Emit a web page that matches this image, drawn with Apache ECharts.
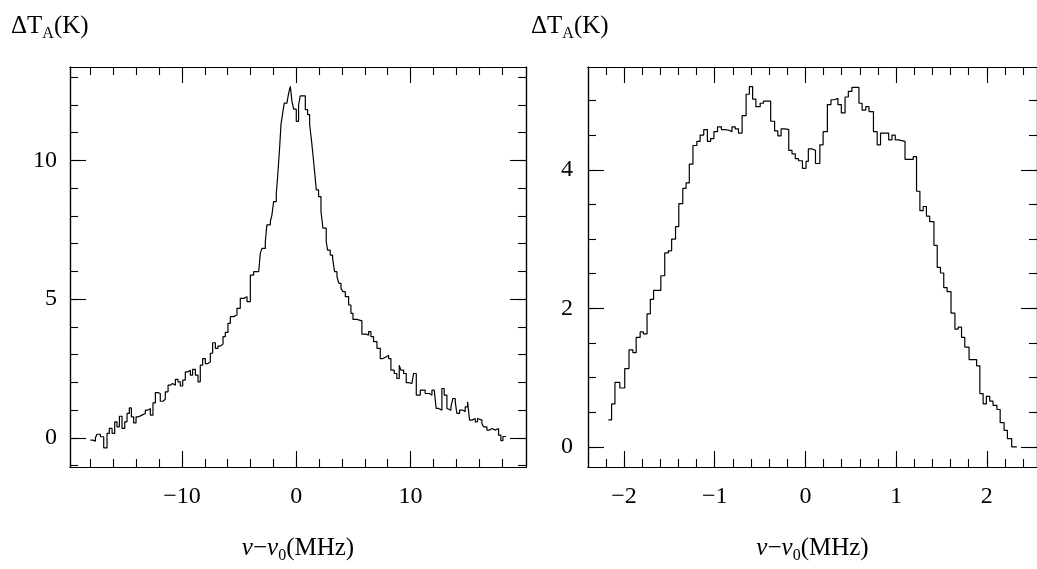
<!DOCTYPE html>
<html><head><meta charset="utf-8">
<script src="https://cdn.jsdelivr.net/npm/echarts@6/dist/echarts.min.js"></script>
<style>html,body{margin:0;padding:0;background:#fff}#c{width:1037px;height:569px}</style>
</head><body><div id="c"></div>
<script>
// ---- Left panel: broad line (step edges in MHz, antenna temperature in K)
const leftFreq = [-18.02,-17.80,-17.58,-17.43,-17.14,-16.85,-16.56,-16.36,-16.12,-15.89,-15.69,-15.48,
-15.25,-15.01,-14.81,-14.61,-14.43,-14.23,-14.02,-13.79,-13.50,-13.21,-12.97,-12.77,
-12.54,-12.33,-12.10,-11.90,-11.66,-11.46,-11.22,-11.02,-10.82,-10.58,-10.35,-10.15,
-9.94,-9.71,-9.48,-9.27,-9.07,-8.83,-8.60,-8.40,-8.19,-7.96,-7.73,-7.52,
-7.32,-7.08,-6.85,-6.65,-6.41,-6.21,-5.98,-5.77,-5.48,-5.19,-4.90,-4.61,
-4.31,-4.02,-3.73,-3.29,-3.15,-3.00,-2.71,-2.57,-2.27,-2.13,-1.98,-1.75,
-1.63,-1.46,-1.34,-1.17,-1.05,-0.82,-0.67,-0.52,-0.38,-0.23,0.00,0.20,
0.35,0.79,0.99,1.17,1.31,1.46,1.63,1.75,1.95,2.16,2.33,2.62,
2.74,2.97,3.18,3.35,3.56,3.73,3.91,4.08,4.29,4.58,4.78,4.96,
5.31,5.74,6.12,6.33,6.53,6.76,7.06,7.35,7.58,7.87,8.08,8.28,
8.57,8.80,9.01,9.15,9.39,9.62,9.83,10.12,10.26,10.50,10.85,11.28,
11.66,11.87,12.07,12.24,12.45,12.74,12.94,13.18,13.32,13.53,13.70,13.91,
14.05,14.29,14.58,14.78,14.99,15.16,15.36,15.66,15.86,16.03,16.24,16.38,
16.68,16.91,17.14,17.41,17.70,17.90,18.08];
const leftTa = [-0.08,-0.12,0.0,0.13,0.04,-0.36,0.16,0.34,0.16,0.58,0.40,0.78,
0.34,0.58,0.88,1.08,0.76,0.54,0.76,0.82,0.88,1.00,1.06,0.82,
1.26,1.63,1.60,1.32,1.39,1.66,1.90,1.96,1.90,2.11,2.02,1.87,
2.08,2.38,2.44,2.26,2.47,2.26,2.02,2.62,2.86,2.68,2.74,3.05,
3.43,3.23,3.31,3.38,3.65,3.80,4.13,4.37,4.43,4.67,5.03,5.09,
4.91,5.87,5.99,6.05,6.65,6.83,7.08,7.68,7.80,8.04,8.52,8.82,
9.42,10.45,11.29,11.77,12.07,12.01,12.43,12.67,12.13,11.85,11.41,12.00,
12.33,11.83,11.65,11.29,10.80,10.20,9.48,8.94,8.70,8.16,7.56,7.08,
6.77,6.59,6.47,5.99,5.81,5.57,5.39,5.27,5.09,4.79,4.49,4.27,
4.22,3.74,3.70,3.83,3.65,3.47,3.23,2.86,2.92,2.98,2.86,2.44,
2.32,2.14,2.62,2.44,2.32,1.99,1.96,2.02,2.32,1.54,1.72,1.60,
1.54,1.72,1.66,1.06,1.00,1.78,1.54,1.06,1.00,1.12,1.42,1.30,
0.88,1.00,0.94,1.12,1.30,0.64,0.70,0.58,0.70,0.64,0.52,0.40,
0.28,0.34,0.28,0.34,0.10,-0.10,0.05];
const leftEnd = 18.35;

// ---- Right panel: narrow line
const rightFreq = [-2.173,-2.137,-2.100,-2.046,-1.992,-1.945,-1.902,-1.866,-1.822,-1.786,-1.746,-1.710,
-1.674,-1.594,-1.551,-1.511,-1.475,-1.432,-1.396,-1.352,-1.316,-1.280,-1.240,-1.197,
-1.161,-1.121,-1.081,-1.045,-1.009,-0.969,-0.926,-0.889,-0.842,-0.810,-0.774,-0.738,
-0.698,-0.654,-0.618,-0.582,-0.546,-0.499,-0.463,-0.383,-0.340,-0.304,-0.268,-0.221,
-0.184,-0.148,-0.112,-0.076,-0.033,0.007,0.032,0.075,0.111,0.159,0.195,0.242,
0.282,0.321,0.358,0.396,0.437,0.473,0.513,0.590,0.625,0.665,0.701,0.750,
0.791,0.828,0.918,0.954,0.990,1.026,1.098,1.189,1.225,1.262,1.298,1.334,
1.370,1.417,1.453,1.489,1.525,1.562,1.605,1.648,1.685,1.721,1.757,1.804,
1.887,1.923,1.959,1.995,2.032,2.068,2.111,2.147,2.190,2.227,2.274];
const rightTa = [0.39,0.62,0.93,0.85,1.13,1.40,1.36,1.58,1.66,1.63,1.92,2.13,
2.26,2.47,2.80,2.83,3.00,3.18,3.51,3.73,3.81,4.08,4.35,4.41,
4.50,4.58,4.41,4.45,4.55,4.62,4.58,4.57,4.55,4.62,4.59,4.53,
4.78,5.09,5.20,5.02,4.91,4.96,4.99,4.70,4.56,4.49,4.59,4.58,
4.28,4.23,4.16,4.13,4.02,4.12,4.30,4.28,4.09,4.36,4.55,4.94,
5.01,5.03,4.94,4.82,5.05,5.13,5.19,4.96,4.86,4.91,4.84,4.55,
4.36,4.53,4.43,4.50,4.43,4.41,4.15,4.19,3.69,3.41,3.47,3.33,
3.25,2.91,2.59,2.51,2.30,2.24,1.93,1.70,1.73,1.58,1.44,1.26,
1.17,0.77,0.62,0.73,0.66,0.60,0.54,0.35,0.24,0.12,0.00];
const rightEnd = 2.33;

// ---- Tick values
const leftXMajor = [-10, 0, 10];
const leftXMinor = [-18,-16,-14,-12,-10,-8,-6,-4,-2,0,2,4,6,8,10,12,14,16,18];
const leftYMajor = [0, 5, 10];
const leftYMinor = [-1,0,1,2,3,4,5,6,7,8,9,10,11,12,13];
const rightXMajor = [-2, -1, 0, 1, 2];
const rightXMinor = [-2.2,-2.0,-1.8,-1.6,-1.4,-1.2,-1.0,-0.8,-0.6,-0.4,-0.2,0,0.2,0.4,0.6,0.8,1.0,1.2,1.4,1.6,1.8,2.0,2.2,2.4];
const rightYMajor = [0, 2, 4];
const rightYMinor = [0,0.5,1,1.5,2,2.5,3,3.5,4,4.5,5];

const yTitle = '{a|ΔT}{s|A}{a|(K)}';
const xTitle = '{i|ν}{a|−}{i|ν}{s|0}{a|(MHz)}';

const FONT = 'Liberation Serif';
const BLACK = '#000';
const rich = {
  a: {fontFamily: FONT, fontSize: 25, fontWeight: 'normal', color: BLACK, lineHeight: 30},
  i: {fontFamily: FONT, fontSize: 25, fontWeight: 'normal', fontStyle: 'italic', color: BLACK, lineHeight: 30},
  s: {fontFamily: FONT, fontSize: 16, fontWeight: 'normal', color: BLACK, lineHeight: 30, padding: [16, 0, 0, 0]}
};
const fmt = v => String(v).replace('-', '−');

function steps(freq, ta, end) {
  const n = Math.min(freq.length, ta.length);
  const d = [];
  for (let i = 0; i < n; i++) d.push([freq[i], ta[i]]);
  d.push([end, ta[n - 1]]);
  return d;
}

function axisSet(isX, grid, min, max, major, minor, labelMargin, name) {
  const line = {show: true, onZero: false, lineStyle: {color: BLACK, width: 1.2}};
  const base = {type: 'value', gridIndex: grid, min: min, max: max, splitLine: {show: false}, axisLine: line};
  const sides = isX ? ['bottom', 'top'] : ['left', 'right'];
  const out = [];
  sides.forEach((side, si) => {
    [major, minor].forEach((vals, k) => {
      const ax = Object.assign({}, base, {
        position: side,
        axisTick: {show: true, inside: true, length: k === 0 ? 16 : 8, customValues: vals,
                   lineStyle: {color: BLACK, width: 1.1}},
        axisLabel: {show: false}
      });
      if (si === 0 && k === 0) {
        ax.axisLabel = {show: true, customValues: major, formatter: fmt, margin: labelMargin,
                        fontFamily: FONT, fontSize: 24, color: BLACK};
        if (name) {
          ax.name = name;
          ax.nameLocation = 'middle';
          ax.nameGap = 66;
          ax.nameTextStyle = {fontFamily: FONT, fontSize: 25, fontWeight: 'normal', color: BLACK, rich: rich};
        }
      }
      out.push(ax);
    });
  });
  return out;
}

const chart = echarts.init(document.getElementById('c'), null, {renderer: 'canvas'});
const xAxes = [].concat(
  axisSet(true, 0, -19.8, 20.1, leftXMajor, leftXMinor, 18, xTitle),
  axisSet(true, 1, -2.397, 2.553, rightXMajor, rightXMinor, 18, xTitle)
);
const yAxes = [].concat(
  axisSet(false, 0, -1.05, 13.37, leftYMajor, leftYMinor, 13, null),
  axisSet(false, 1, -0.29, 5.483, rightYMajor, rightYMinor, 15, null)
);

chart.setOption({
  animation: false,
  backgroundColor: '#fff',
  title: [
    {text: yTitle, left: 6, top: 6, textStyle: {fontWeight: 'normal', rich: rich}},
    {text: yTitle, left: 526, top: 6, textStyle: {fontWeight: 'normal', rich: rich}}
  ],
  grid: [
    {left: 70, top: 67, width: 456, height: 400},
    {left: 588, top: 67, width: 456, height: 400}
  ],
  xAxis: xAxes,
  yAxis: yAxes,
  series: [
    {type: 'line', step: 'end', xAxisIndex: 0, yAxisIndex: 0, symbol: 'none',
     lineStyle: {color: BLACK, width: 1.2}, data: steps(leftFreq, leftTa, leftEnd)},
    {type: 'line', step: 'end', xAxisIndex: 4, yAxisIndex: 4, symbol: 'none',
     lineStyle: {color: BLACK, width: 1.2}, data: steps(rightFreq, rightTa, rightEnd)}
  ]
});
</script></body></html>
